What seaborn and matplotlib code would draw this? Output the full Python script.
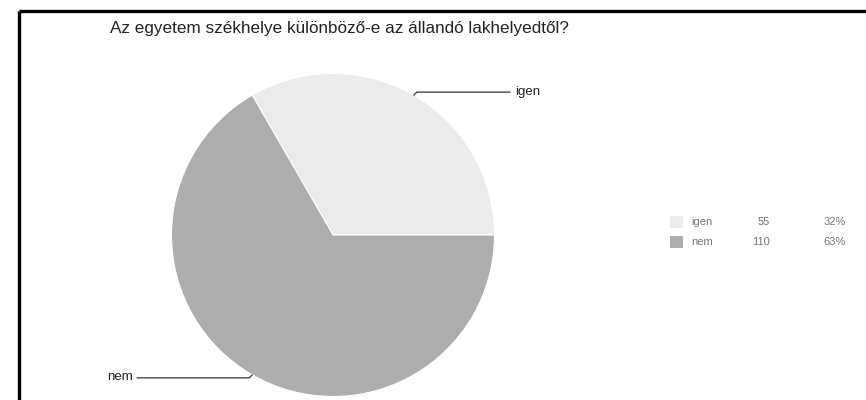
import numpy as np
import matplotlib
matplotlib.use("Agg")
import matplotlib.pyplot as plt
import seaborn as sns
from matplotlib.patches import Rectangle

# adatok
title = "Az egyetem székhelye különböző-e az állandó lakhelyedtől?"
labels = ["igen", "nem"]
counts = [55, 110]
percents = ["32%", "63%"]
colors = ["#ebebeb", "#adadad"]

sns.set_theme(style="white")
plt.rcParams["font.family"] = ["Liberation Sans", "DejaVu Sans"]

W, H = 866, 400
fig = plt.figure(figsize=(W / 100, H / 100), dpi=100)
ax = fig.add_axes([0, 0, 1, 1])

cx, cy, r = 333, H - 235, 161.5
wedges, _ = ax.pie(counts, colors=colors, startangle=0, counterclock=True,
                   center=(cx, cy), radius=r, frame=True,
                   wedgeprops=dict(linewidth=0.8, edgecolor="white"))
ax.set_xlim(0, W)
ax.set_ylim(0, H)
ax.set_aspect("equal")
ax.axis("off")

# keret (fent + bal)
ax.plot([19, W], [H - 11, H - 11], color="black", lw=2.4, solid_capstyle="butt")
ax.plot([19, 19], [H - 11, 0], color="black", lw=2.4, solid_capstyle="butt")

ax.text(110, H - 28, title, fontsize=12.3, color="#222222", va="center", ha="left")

# címkék vonallal
for w, lab in zip(wedges, labels):
    mid = np.deg2rad((w.theta1 + w.theta2) / 2)
    px, py = cx + r * np.cos(mid), cy + r * np.sin(mid)
    if np.cos(mid) >= 0:
        x_end = 510
        ax.plot([px, px + 3, x_end], [py, py + 3, py + 3], color="#333333", lw=0.9)
        ax.text(x_end + 5, py + 3, lab, fontsize=9.5, color="#222222", va="center", ha="left")
    else:
        x_end = 137
        ax.plot([px, px - 3, x_end], [py, py - 3, py - 3], color="#333333", lw=0.9)
        ax.text(x_end - 4, py - 2, lab, fontsize=9.5, color="#222222", va="center", ha="right")

# jelmagyarázat
for i, (lab, n, p, c) in enumerate(zip(labels, counts, percents, colors)):
    y = H - 222 - i * 20
    ax.add_patch(Rectangle((670, y - 6), 13, 12, facecolor=c, edgecolor="none"))
    ax.text(691, y, lab, fontsize=8, color="#777777", va="center", ha="left")
    ax.text(770, y, str(n), fontsize=8, color="#777777", va="center", ha="right")
    ax.text(846, y, p, fontsize=8, color="#777777", va="center", ha="right")

fig.savefig("out.png", dpi=100)
